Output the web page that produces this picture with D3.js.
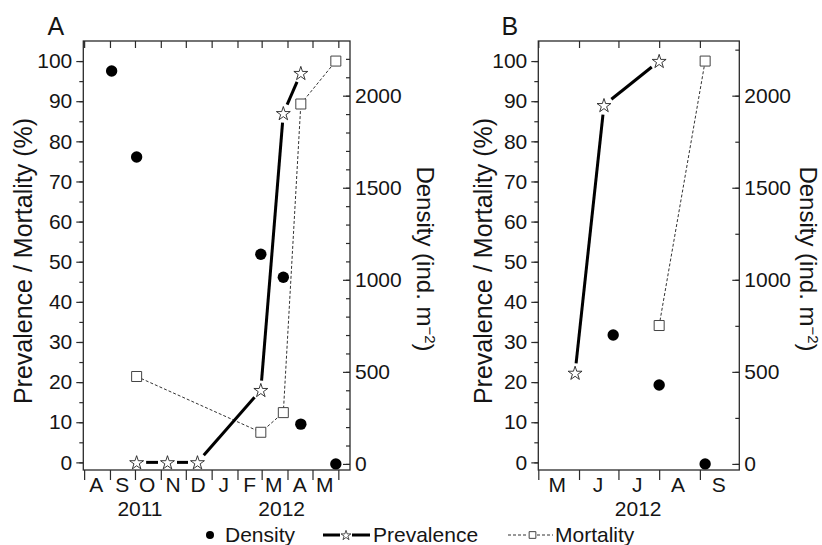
<!DOCTYPE html>
<html>
<head>
<meta charset="utf-8">
<script src="https://cdn.jsdelivr.net/npm/d3@7"></script>
<style>
  body { margin: 0; background: #ffffff; }
  svg { display: block; background: #ffffff; }
</style>
</head>
<body>
<svg id="chart" width="822" height="545"></svg>
<script>
//Chart global variables
const width = 822;
const height = 545;
const plotTop = 41;
const plotBottom = 470;
const fontFamily = '"Liberation Sans", Arial, Helvetica, sans-serif';
const tickFont = 21;
const ink = "#151515";
const axisColor = "#2a2a2a";

// panel A (Aug 2011 - May 2012)
const a_densityDates = ["2011-09-03", "2011-10-03", "2012-02-29", "2012-03-27", "2012-04-17", "2012-05-29"];
const a_density = [2134, 1667, 1139, 1014, 216, 0];
const a_prevalenceDates = ["2011-10-03", "2011-11-09", "2011-12-15", "2012-02-29", "2012-03-27", "2012-04-17"];
const a_prevalence = [0, 0, 0, 18, 87, 97];
const a_mortalityDates = ["2011-10-03", "2012-02-29", "2012-03-27", "2012-04-17", "2012-05-29"];
const a_mortality = [21.4, 7.5, 12.4, 89.3, 100];
const a_monthLabels = ["A", "S", "O", "N", "D", "J", "F", "M", "A", "M"];
const a_firstMonth = "2011-08-01";
const a_years = ["2011", "2012"];
const a_yearDates = ["2011-10-07", "2012-03-25"];

// panel B (May 2012 - Sep 2012)
const b_densityDates = ["2012-06-27", "2012-08-01", "2012-09-05"];
const b_density = [700, 429, 0];
const b_prevalenceDates = ["2012-05-29", "2012-06-20", "2012-08-01"];
const b_prevalence = [22.3, 89, 100];
const b_mortalityDates = ["2012-08-01", "2012-09-05"];
const b_mortality = [34.1, 100];
const b_monthLabels = ["M", "J", "J", "A", "S"];
const b_firstMonth = "2012-05-01";
const b_years = ["2012"];
const b_yearDates = ["2012-07-16"];

// axis ticks
const prevTicks = d3.range(0, 101, 10);
const prevMinorTicks = d3.range(0, 101, 5);
const densityTicks = [0, 500, 1000, 1500, 2000];
const a_densityMinorTicks = d3.range(0, 2201, 100);
const b_densityMinorTicks = d3.range(0, 2251, 250);

const parseDate = d3.timeParse("%Y-%m-%d");

const yPrev = d3.scaleLinear().domain([-1.9, 105]).range([plotBottom, plotTop]);
const yDens = d3.scaleLinear().domain([-33, 2297]).range([plotBottom, plotTop]);

const svg = d3.select("#chart");

const starPath = d3.symbol(d3.symbolStar, 60)();
const squarePath = d3.symbol(d3.symbolSquare, 100)();

function styleAxis(sel) {
    sel.select(".domain").remove();
    sel.attr("font-family", fontFamily)
       .attr("font-size", tickFont)
       .attr("color", ink);
    sel.selectAll("line").attr("stroke", axisColor).attr("stroke-width", 1.2);
}

function drawPanel(p) {
    const x = d3.scaleTime()
                .domain([parseDate(p.domain[0]), parseDate(p.domain[1])])
                .range([p.left, p.right]);
    const g = svg.append("g");

    const monthStarts = d3.timeMonth.range(x.domain()[0], x.domain()[1]);
    const first = parseDate(p.firstMonth);
    const monthMids = p.monthLabels.map((m, i) => d3.timeDay.offset(d3.timeMonth.offset(first, i), 14));

    // bottom ticks (outward) and top ticks (inward)
    g.append("g")
     .attr("transform", "translate(0," + plotBottom + ")")
     .call(d3.axisBottom(x).tickValues(monthStarts).tickSize(10).tickFormat(""))
     .call(styleAxis);
    g.append("g")
     .attr("transform", "translate(0," + plotTop + ")")
     .call(d3.axisTop(x).tickValues(monthStarts).tickSize(-7).tickFormat(""))
     .call(styleAxis);
    g.append("g")
     .attr("transform", "translate(0," + plotBottom + ")")
     .call(d3.axisBottom(x).tickValues(monthMids).tickSize(0).tickPadding(7)
             .tickFormat((d, i) => p.monthLabels[i]))
     .call(styleAxis);

    // left axis
    g.append("g")
     .attr("transform", "translate(" + p.left + ",0)")
     .call(d3.axisLeft(yPrev).tickValues(prevMinorTicks).tickSize(4).tickFormat(""))
     .call(styleAxis);
    g.append("g")
     .attr("transform", "translate(" + p.left + ",0)")
     .call(d3.axisLeft(yPrev).tickValues(prevTicks).tickSize(7).tickPadding(4))
     .call(styleAxis);

    // right axis (ticks pointing inside)
    g.append("g")
     .attr("transform", "translate(" + p.right + ",0)")
     .call(d3.axisRight(yDens).tickValues(p.densityMinor).tickSize(-4).tickFormat(""))
     .call(styleAxis);
    g.append("g")
     .attr("transform", "translate(" + p.right + ",0)")
     .call(d3.axisRight(yDens).tickValues(densityTicks).tickSize(-7).tickPadding(5)
             .tickFormat(d3.format("d")))
     .call(styleAxis);

    g.append("rect")
     .attr("x", p.left)
     .attr("y", plotTop)
     .attr("width", p.right - p.left)
     .attr("height", plotBottom - plotTop)
     .attr("fill", "none")
     .attr("stroke", axisColor)
     .attr("stroke-width", 1.3);

    // year labels
    g.selectAll(".year")
     .data(p.years)
     .join("text")
     .attr("x", (d, i) => x(parseDate(p.yearDates[i])))
     .attr("y", 516)
     .attr("text-anchor", "middle")
     .attr("font-family", fontFamily)
     .attr("font-size", tickFont)
     .attr("fill", ink)
     .text(d => d);

    // density
    g.selectAll(".dens")
     .data(p.density)
     .join("circle")
     .attr("cx", (d, i) => x(parseDate(p.densityDates[i])))
     .attr("cy", d => yDens(d))
     .attr("r", 5.7)
     .attr("fill", "#000");

    // mortality
    const mort = p.mortality.map((v, i) => [x(parseDate(p.mortalityDates[i])), yPrev(v)]);
    g.append("path")
     .attr("d", d3.line()(mort))
     .attr("fill", "none")
     .attr("stroke", "#333")
     .attr("stroke-width", 1)
     .attr("stroke-dasharray", "3,2");

    // prevalence, line broken around the markers
    const prev = p.prevalence.map((v, i) => [x(parseDate(p.prevalenceDates[i])), yPrev(v)]);
    const gap = 9.5;
    d3.pairs(prev).forEach(([a, b]) => {
        const dx = b[0] - a[0], dy = b[1] - a[1];
        const len = Math.hypot(dx, dy);
        if (len <= 2 * gap) return;
        const ux = dx / len, uy = dy / len;
        g.append("line")
         .attr("x1", a[0] + ux * gap).attr("y1", a[1] + uy * gap)
         .attr("x2", b[0] - ux * gap).attr("y2", b[1] - uy * gap)
         .attr("stroke", "#000")
         .attr("stroke-width", 3);
    });

    g.selectAll(".sq")
     .data(mort)
     .join("path")
     .attr("d", squarePath)
     .attr("transform", d => "translate(" + d[0] + "," + d[1] + ")")
     .attr("fill", "#fff")
     .attr("stroke", "#444")
     .attr("stroke-width", 1);

    g.selectAll(".star")
     .data(prev)
     .join("path")
     .attr("d", starPath)
     .attr("transform", d => "translate(" + d[0] + "," + (d[1] + 0.6) + ")")
     .attr("fill", "#fff")
     .attr("stroke", "#222")
     .attr("stroke-width", 0.9);

    // titles
    g.append("text")
     .attr("x", p.letterX)
     .attr("y", 35)
     .attr("font-family", fontFamily)
     .attr("font-size", 25)
     .attr("fill", ink)
     .text(p.letter);

    g.append("text")
     .attr("transform", "translate(" + p.leftTitleX + ",261) rotate(-90)")
     .attr("text-anchor", "middle")
     .attr("font-family", fontFamily)
     .attr("font-size", 25)
     .attr("fill", ink)
     .text("Prevalence / Mortality (%)");

    const rt = g.append("text")
     .attr("transform", "translate(" + p.rightTitleX + ",259) rotate(90)")
     .attr("text-anchor", "middle")
     .attr("font-family", fontFamily)
     .attr("font-size", 24)
     .attr("fill", ink);
    rt.append("tspan").text("Density (ind. m");
    rt.append("tspan").attr("font-size", 15).attr("dy", -8).text("\u22122");
    rt.append("tspan").attr("dy", 8).text(")");
}

drawPanel({
    domain: ["2011-07-31", "2012-06-15"], left: 83.3, right: 350,
    densityDates: a_densityDates, density: a_density,
    prevalenceDates: a_prevalenceDates, prevalence: a_prevalence,
    mortalityDates: a_mortalityDates, mortality: a_mortality,
    monthLabels: a_monthLabels, firstMonth: a_firstMonth,
    years: a_years, yearDates: a_yearDates,
    densityMinor: a_densityMinorTicks,
    letter: "A", letterX: 47.5, leftTitleX: 31.5, rightTitleX: 417
});

drawPanel({
    domain: ["2012-05-01", "2012-10-01"], left: 538.3, right: 739.3,
    densityDates: b_densityDates, density: b_density,
    prevalenceDates: b_prevalenceDates, prevalence: b_prevalence,
    mortalityDates: b_mortalityDates, mortality: b_mortality,
    monthLabels: b_monthLabels, firstMonth: b_firstMonth,
    years: b_years, yearDates: b_yearDates,
    densityMinor: b_densityMinorTicks,
    letter: "B", letterX: 501.5, leftTitleX: 491.5, rightTitleX: 800
});

// legend
const legendY = 535;
const legend = svg.append("g").attr("font-family", fontFamily).attr("font-size", 21).attr("fill", ink);

legend.append("circle").attr("cx", 210).attr("cy", legendY).attr("r", 4).attr("fill", "#000");
legend.append("text").attr("x", 225).attr("y", 542).text("Density");

legend.append("line").attr("x1", 323).attr("x2", 340).attr("y1", legendY).attr("y2", legendY)
      .attr("stroke", "#000").attr("stroke-width", 3);
legend.append("line").attr("x1", 352).attr("x2", 370).attr("y1", legendY).attr("y2", legendY)
      .attr("stroke", "#000").attr("stroke-width", 3);
legend.append("path").attr("d", d3.symbol(d3.symbolStar, 30)())
      .attr("transform", "translate(346," + (legendY + 0.5) + ")")
      .attr("fill", "#fff").attr("stroke", "#222").attr("stroke-width", 0.8);
legend.append("text").attr("x", 373).attr("y", 542).text("Prevalence");

legend.append("line").attr("x1", 508).attr("x2", 528).attr("y1", legendY).attr("y2", legendY)
      .attr("stroke", "#333").attr("stroke-width", 1).attr("stroke-dasharray", "3,2");
legend.append("line").attr("x1", 537).attr("x2", 553).attr("y1", legendY).attr("y2", legendY)
      .attr("stroke", "#333").attr("stroke-width", 1).attr("stroke-dasharray", "3,2");
legend.append("path").attr("d", d3.symbol(d3.symbolSquare, 45)())
      .attr("transform", "translate(532.5," + legendY + ")")
      .attr("fill", "#fff").attr("stroke", "#444").attr("stroke-width", 1);
legend.append("text").attr("x", 555).attr("y", 542).text("Mortality");
</script>
</body>
</html>
